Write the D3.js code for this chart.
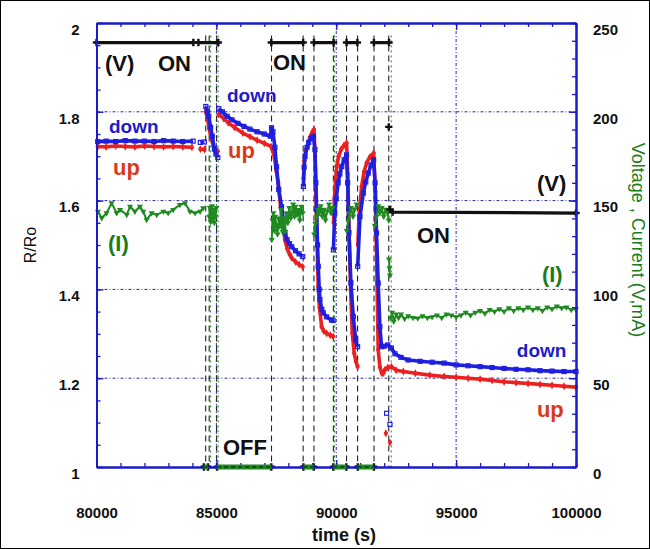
<!DOCTYPE html>
<html>
<head>
<meta charset="utf-8">
<script src="https://cdn.jsdelivr.net/npm/d3@7"></script>
<style>
  body { margin: 0; background: #fff; }
  svg { display: block; }
  text { font-family: "Liberation Sans", Arial, sans-serif; }
</style>
</head>
<body>
<svg id="chart" width="650" height="549"></svg>
<script>
// ---- axis ticks ----
const timeTicks = [80000, 85000, 90000, 95000, 100000];
const rTicks = [1, 1.2, 1.4, 1.6, 1.8, 2];
const viTicks = [0, 50, 100, 150, 200, 250];

// ---- R/Ro, "down" sweep: [time (s), R/Ro]; null separates runs ----
const rDown = [
  [80050,1.733],[80400,1.734],[80800,1.733],[81200,1.735],[81600,1.734],[82000,1.734],
  [82400,1.733],[82800,1.735],[83200,1.734],[83600,1.733],[84030,1.734], null,
  [84330,1.731],[84500,1.732], null,
  [84560,1.812],[84620,1.800],[84680,1.790],[84760,1.765],[84830,1.745],[84920,1.716],
  [84980,1.705],[85060,1.697], null,
  [85100,1.807],[85250,1.800],[85450,1.790],[85650,1.782],[85900,1.774],[86150,1.767],
  [86400,1.761],[86700,1.755],[87000,1.750],[87250,1.745],[87300,1.764],[87360,1.755],
  [87440,1.720],[87510,1.676],[87600,1.625],[87720,1.586],[87800,1.555],[87860,1.528],
  [87950,1.512],[88050,1.503],[88140,1.496],[88300,1.487],[88450,1.480],[88600,1.474], null,
  [88630,1.632],[88660,1.675],[88700,1.700],[88780,1.720],[88850,1.731],[88950,1.740],
  [89050,1.745],[89110,1.715],[89150,1.640],[89180,1.580],[89220,1.500],[89250,1.452],
  [89290,1.400],[89320,1.377],[89400,1.355],[89460,1.347],[89600,1.338],[89800,1.331],
  [89870,1.330], null,
  [89880,1.489],[89940,1.572],[90000,1.605],[90080,1.640],[90150,1.660],[90230,1.677],
  [90330,1.692],[90430,1.703],[90475,1.640],[90530,1.528],[90610,1.415],[90710,1.339],
  [90810,1.286],[90890,1.271], null,
  [90895,1.452],[90990,1.564],[91130,1.617],[91230,1.642],[91335,1.662],[91450,1.680],
  [91560,1.692],[91620,1.640],[91680,1.527],[91750,1.414],[91820,1.316],[91890,1.271],
  [92000,1.272],[92150,1.275],[92300,1.268],[92450,1.255],[92700,1.247],[93000,1.241],
  [93500,1.238],[94000,1.236],[94500,1.234],[95000,1.230],[95500,1.228],[96000,1.226],
  [96500,1.224],[97000,1.222],[97500,1.220],[98000,1.219],[98500,1.217],[99000,1.216],
  [99500,1.215],[100000,1.215]
];
const rDownStray = [[92100,1.121],[92240,1.096]];

// ---- R/Ro, "up" sweep ----
const rUp = [
  [80050,1.722],[80400,1.721],[80800,1.723],[81200,1.722],[81600,1.721],[82000,1.723],
  [82400,1.722],[82800,1.721],[83200,1.722],[83600,1.721],[83980,1.720], null,
  [84330,1.716],[84500,1.715], null,
  [84560,1.801],[84620,1.785],[84700,1.762],[84780,1.740],[84880,1.722],[84960,1.713],
  [85060,1.711], null,
  [85100,1.794],[85300,1.785],[85500,1.775],[85750,1.765],[86100,1.752],[86400,1.744],
  [86700,1.736],[87000,1.729],[87280,1.722],[87350,1.712],[87430,1.695],[87500,1.667],
  [87580,1.640],[87680,1.585],[87780,1.540],[87860,1.512],[87950,1.492],[88050,1.480],
  [88140,1.471],[88300,1.462],[88450,1.456],[88600,1.451], null,
  [88630,1.650],[88670,1.690],[88720,1.712],[88800,1.722],[88900,1.742],[89000,1.754],
  [89070,1.760],[89120,1.700],[89160,1.600],[89200,1.500],[89250,1.407],[89300,1.360],
  [89390,1.316],[89480,1.306],[89600,1.301],[89750,1.297],[89870,1.294], null,
  [89890,1.550],[89920,1.602],[89970,1.645],[90020,1.677],[90100,1.700],[90200,1.715],
  [90320,1.724],[90430,1.730],[90480,1.660],[90540,1.520],[90600,1.400],[90667,1.301],
  [90750,1.256],[90820,1.238],[90890,1.226], null,
  [90900,1.500],[90950,1.564],[91060,1.632],[91160,1.665],[91270,1.685],[91400,1.698],
  [91560,1.707],[91630,1.620],[91690,1.450],[91750,1.264],[91820,1.225],[91900,1.211],
  [91960,1.211],[92030,1.219],[92150,1.224],[92300,1.226],[92500,1.218],[92800,1.215],
  [93300,1.211],[93900,1.207],[94500,1.204],[95000,1.202],[95500,1.200],[96000,1.198],
  [96500,1.195],[97000,1.192],[97500,1.190],[98000,1.188],[98500,1.186],[99000,1.184],
  [99500,1.182],[100000,1.180]
];
const rUpStray = [[92070,1.076],[92240,1.055]];

// ---- current (mA) ----
const currentI = [
  [80060,143.9],[80220,140.2],[80420,143.0],[80630,148.6],[80840,143.0],[80980,144.9],
  [81260,142.0],[81400,146.7],[81600,143.9],[81810,146.7],[81950,143.9],[82090,139.2],
  [82300,143.0],[82510,142.0],[82790,143.9],[82990,143.0],[83200,144.9],[83480,147.7],
  [83690,148.6],[83900,143.9],[84110,143.0],[84320,143.9],[84450,145.8], null,
  [84480,0],[84650,0], null,
  [84700,141],[84730,146],[84760,138],[84790,144],[84820,147],[84850,139],[84880,143],
  [84910,137.5],[84940,145],[84970,141],[85000,146], null,
  [85030,0],[87290,0], null,
  [87310,128],[87340,139],[87380,143],[87420,133],[87460,141],[87500,136],[87550,131],
  [87600,140],[87650,135.5],[87700,145],[87760,132.6],[87820,140],[87860,132.6],[87920,143],
  [87980,137.5],[88040,146],[88100,140],[88140,143],[88200,148],[88260,141],[88300,146.7],
  [88360,142],[88420,144.9],[88480,139],[88540,146.7],[88600,143], null,
  [88630,0],[89060,0], null,
  [89080,131],[89130,137],[89180,141],[89230,145],[89290,143],[89350,147],[89420,141],
  [89480,145],[89550,139],[89620,144],[89700,148],[89780,143],[89850,146], null,
  [89880,0],[90420,0], null,
  [90440,133],[90500,139],[90560,143],[90620,146],[90700,141],[90770,145],[90850,148], null,
  [90900,0],[91570,0], null,
  [91610,136],[91680,141],[91750,147],[91820,143],[91900,146],[91980,141],[92060,145],
  [92140,143],[92190,139], null,
  [92200,117],[92220,112],[92240,108], null,
  [92270,84],[92330,87],[92400,82],[92500,86],[92600,84],[92700,86],[92850,83.5],[93000,85],
  [93200,84],[93400,83.7],[93600,85],[93800,84],[94000,84.5],[94200,85.5],[94400,84],
  [94600,86],[94800,85.5],[95000,84.5],[95200,85.5],[95400,87],[95600,85.5],[95800,87],
  [96000,88],[96200,86.5],[96400,88.5],[96600,87.5],[96800,89],[97000,87.5],[97200,89.5],
  [97400,88],[97600,89.5],[97800,88.5],[98000,90],[98200,88.5],[98400,89.5],[98600,88],
  [98800,90],[99000,89],[99200,90.5],[99400,89.5],[99600,90],[99800,88.5],[100000,89]
];

// ---- voltage (V) ----
const voltageV = [
  [80000,239],[84040,239], null,
  [84250,239],[85080,239], null,
  [84480,0],[84650,0], null,
  [85030,0],[87290,0], null,
  [87290,239],[88620,239], null,
  [88630,0],[89060,0], null,
  [89070,239],[89890,239], null,
  [89880,0],[90420,0], null,
  [90430,239],[90880,239], null,
  [90900,0],[91570,0], null,
  [91570,239],[92200,239], null,
  [92190,191.5], null,
  [92240,145],[92350,143.5],[100000,143]
];

// switching instants (s)
const switchTimes = [84555, 84700, 85010, 87300, 88620, 89070, 89880, 90430, 90890, 91575, 92190];
const switchTimesI = [84700, 85010, 89870, 92230];

// ---- layout ----
const svg = d3.select("#chart");
const x = d3.scaleLinear().domain([80000, 100000]).range([96.5, 576]);
const yR = d3.scaleLinear().domain([1, 2]).range([467, 23]);
const yV = d3.scaleLinear().domain([0, 250]).range([467, 23]);

const AXIS = "#1a1ac8";
const GRID = "#2a2aa8";
const BLUE = "#1f1fe0";
const RED = "#ec2020";
const GREEN = "#1f8a1f";

svg.append("rect").attr("x", 0.5).attr("y", 0.5).attr("width", 649).attr("height", 548)
  .attr("fill", "#fff").attr("stroke", "#000").attr("stroke-width", 1);

// grid
const grid = svg.append("g");
[85000, 90000, 95000].forEach(t => {
  grid.append("line").attr("x1", x(t)).attr("x2", x(t)).attr("y1", yR(2)).attr("y2", yR(1))
    .attr("stroke", GRID).attr("stroke-width", 1).attr("stroke-dasharray", "3,2,1,2");
});
[1.2, 1.4, 1.6, 1.8].forEach(r => {
  grid.append("line").attr("x1", x(80000)).attr("x2", x(100000)).attr("y1", yR(r)).attr("y2", yR(r))
    .attr("stroke", GRID).attr("stroke-width", 1).attr("stroke-dasharray", "3,2,1,2");
});

// switching markers
const sw = svg.append("g");
switchTimes.forEach(t => {
  sw.append("line").attr("x1", x(t)).attr("x2", x(t)).attr("y1", yV(243)).attr("y2", yV(0))
    .attr("stroke", "#222").attr("stroke-width", 1.1).attr("stroke-dasharray", "6,4");
});
switchTimesI.forEach(t => {
  sw.append("line").attr("x1", x(t) + 1.5).attr("x2", x(t) + 1.5).attr("y1", yV(243)).attr("y2", yV(0))
    .attr("stroke", GREEN).attr("stroke-width", 1).attr("stroke-dasharray", "2,3");
});

const lineR = d3.line().defined(d => d !== null).x(d => x(d[0])).y(d => yR(d[1]));
const lineV = d3.line().defined(d => d !== null).x(d => x(d[0])).y(d => yV(d[1]));

// R/Ro up (red)
svg.append("path").datum(rUp).attr("d", lineR).attr("fill", "none")
  .attr("stroke", RED).attr("stroke-width", 3.6).attr("stroke-linejoin", "round");
svg.append("g").selectAll("path").data(rUp.filter(d => d).concat(rUpStray)).join("path")
  .attr("d", d3.symbol(d3.symbolDiamond, 18))
  .attr("transform", d => `translate(${x(d[0])},${yR(d[1])})`).attr("fill", RED);

// R/Ro down (blue)
svg.append("path").datum(rDown).attr("d", lineR).attr("fill", "none")
  .attr("stroke", BLUE).attr("stroke-width", 3.6).attr("stroke-linejoin", "round");
svg.append("g").selectAll("rect").data(rDown.filter(d => d).concat(rDownStray)).join("rect")
  .attr("x", d => x(d[0]) - 2).attr("y", d => yR(d[1]) - 2).attr("width", 4).attr("height", 4)
  .attr("fill", "none").attr("stroke", BLUE).attr("stroke-width", 1.2);

// current (green)
svg.append("path").datum(currentI).attr("d", lineV).attr("fill", "none")
  .attr("stroke", GREEN).attr("stroke-width", 2).attr("stroke-linejoin", "round");
svg.append("g").selectAll("path").data(currentI.filter(d => d)).join("path")
  .attr("d", d3.symbol(d3.symbolTriangle, 16))
  .attr("transform", d => `translate(${x(d[0])},${yV(d[1])}) rotate(180)`).attr("fill", GREEN);

// voltage (black)
const vPath = svg.append("path").datum(voltageV).attr("d", lineV).attr("fill", "none")
  .attr("stroke", "#111").attr("stroke-width", 3.2);
svg.append("g").selectAll("path").data(voltageV.filter(d => d)).join("path")
  .attr("d", d3.symbol(d3.symbolCross, 30))
  .attr("transform", d => `translate(${x(d[0])},${yV(d[1])})`).attr("fill", "#111");

// ---- axes ----
function styleAxis(g, withText) {
  g.select(".domain").attr("stroke", AXIS).attr("stroke-width", 2);
  g.selectAll(".tick line").attr("stroke", AXIS).attr("stroke-width", 1.3);
  if (withText) g.selectAll("text").attr("font-size", 15).attr("font-weight", "bold").attr("fill", "#111");
}
const fmtR = d3.format("~g");
const minorT = d3.range(80000, 100001, 1000);
const minorR = d3.range(0, 21).map(i => 1 + i * 0.05);
const minorV = d3.range(0, 251, 10);

// minor ticks
svg.append("g").attr("transform", "translate(0,467)")
  .call(d3.axisBottom(x).tickValues(minorT).tickFormat("").tickSizeInner(-4).tickSizeOuter(0))
  .call(g => styleAxis(g, false));
svg.append("g").attr("transform", "translate(0,23)")
  .call(d3.axisTop(x).tickValues(minorT).tickFormat("").tickSizeInner(-4).tickSizeOuter(0))
  .call(g => styleAxis(g, false));
svg.append("g").attr("transform", "translate(96.5,0)")
  .call(d3.axisLeft(yR).tickValues(minorR).tickFormat("").tickSizeInner(-4).tickSizeOuter(0))
  .call(g => styleAxis(g, false));
svg.append("g").attr("transform", "translate(576,0)")
  .call(d3.axisRight(yV).tickValues(minorV).tickFormat("").tickSizeInner(-4).tickSizeOuter(0))
  .call(g => styleAxis(g, false));

// major ticks with labels
svg.append("g").attr("transform", "translate(0,467)")
  .call(d3.axisBottom(x).tickValues(timeTicks).tickFormat(d3.format("d"))
    .tickSizeInner(-7).tickSizeOuter(0).tickPadding(40))
  .call(g => styleAxis(g, true));
svg.append("g").attr("transform", "translate(0,23)")
  .call(d3.axisTop(x).tickValues(timeTicks).tickFormat("").tickSizeInner(-7).tickSizeOuter(0))
  .call(g => styleAxis(g, false));
svg.append("g").attr("transform", "translate(96.5,0)")
  .call(d3.axisLeft(yR).tickValues(rTicks).tickFormat(fmtR).tickSizeInner(-7).tickSizeOuter(0).tickPadding(17))
  .call(g => styleAxis(g, true))
  .call(g => g.selectAll("text").attr("dy", "0.75em"));
svg.append("g").attr("transform", "translate(576,0)")
  .call(d3.axisRight(yV).tickValues(viTicks).tickSizeInner(-7).tickSizeOuter(0).tickPadding(17))
  .call(g => styleAxis(g, true))
  .call(g => g.selectAll("text").attr("dy", "0.75em"));

// off-state current and voltage along the baseline, over the axis line
svg.append("path").datum(currentI.map(d => (d && d[1] === 0) ? d : null))
  .attr("d", lineV).attr("fill", "none").attr("stroke", GREEN).attr("stroke-width", 5);
svg.append("path").datum(voltageV.map(d => (d && d[1] === 0) ? d : null))
  .attr("d", lineV).attr("fill", "none").attr("stroke", "#111").attr("stroke-width", 1.2)
  .attr("stroke-dasharray", "4,3");

// axis titles
svg.append("text").attr("x", 344).attr("y", 541).attr("text-anchor", "middle")
  .attr("font-size", 18).attr("font-weight", "bold").attr("fill", "#111").text("time (s)");
svg.append("text").attr("transform", "translate(36,245) rotate(-90)").attr("text-anchor", "middle")
  .attr("font-size", 16).attr("fill", "#111").text("R/Ro");
svg.append("text").attr("transform", "translate(632,240) rotate(90)").attr("text-anchor", "middle")
  .attr("font-size", 18).attr("fill", "#1b7d1b").text("Voltage , Current (V,mA)");

// in-plot annotations (time, R/Ro)
const notes = [
  { s: "(V)",  t: 80354, r: 1.891, c: "#111",    f: 22 },
  { s: "ON",   t: 82565, r: 1.891, c: "#111",    f: 22 },
  { s: "ON",   t: 87360, r: 1.895, c: "#111",    f: 22 },
  { s: "down", t: 85442, r: 1.823, c: "#1c1cc8", f: 19 },
  { s: "down", t: 80521, r: 1.753, c: "#1c1cc8", f: 19 },
  { s: "up",   t: 80688, r: 1.657, c: "#d9391c", f: 22 },
  { s: "up",   t: 85484, r: 1.696, c: "#d9391c", f: 22 },
  { s: "(I)",  t: 80480, r: 1.487, c: "#207a20", f: 22 },
  { s: "ON",   t: 93365, r: 1.505, c: "#111",    f: 22 },
  { s: "(V)",  t: 98369, r: 1.622, c: "#111",    f: 22 },
  { s: "(I)",  t: 98577, r: 1.417, c: "#207a20", f: 22 },
  { s: "down", t: 97531, r: 1.248, c: "#1c1cc8", f: 19 },
  { s: "up",   t: 98369, r: 1.112, c: "#d9391c", f: 22 },
  { s: "OFF",  t: 85275, r: 1.027, c: "#111",    f: 22 }
];
svg.append("g").selectAll("text").data(notes).join("text")
  .attr("x", d => x(d.t)).attr("y", d => yR(d.r))
  .attr("font-size", d => d.f).attr("font-weight", "bold").attr("fill", d => d.c)
  .text(d => d.s);
</script>
</body>
</html>
